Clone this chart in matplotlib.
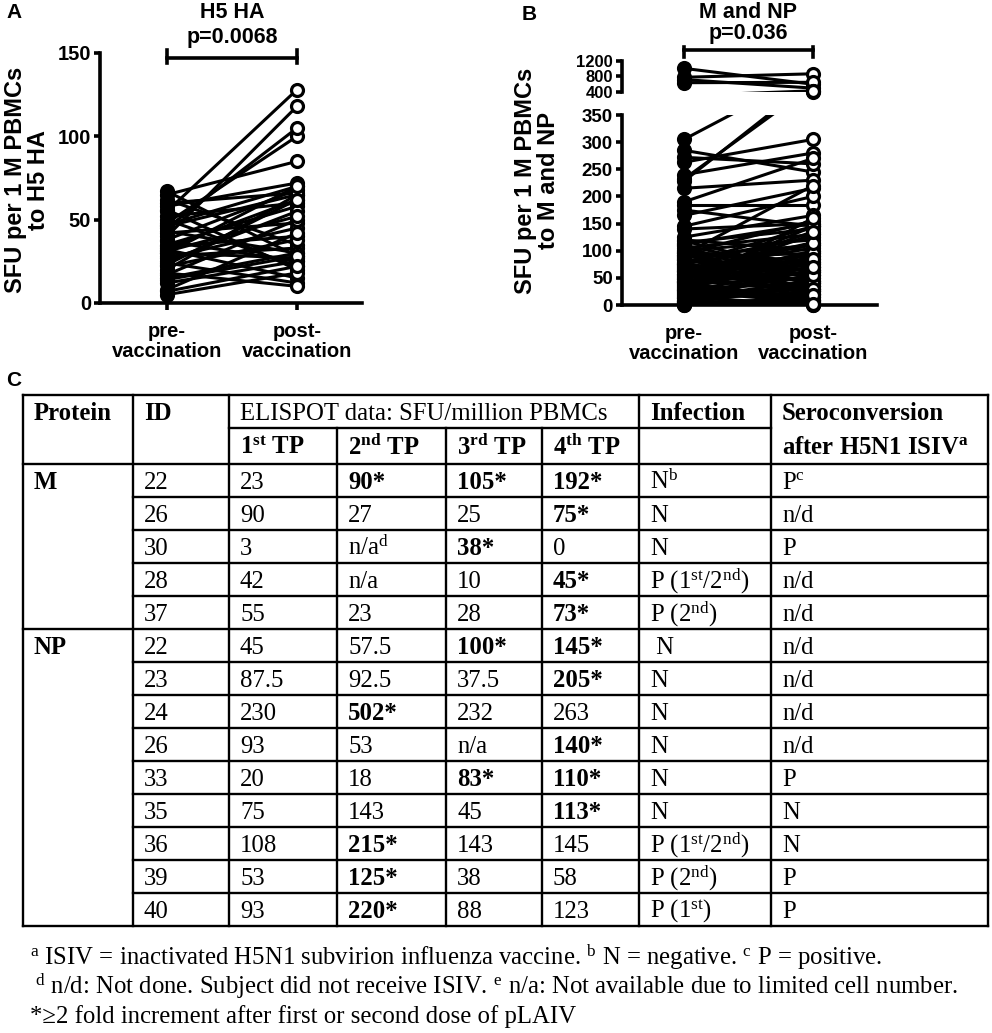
import numpy as np
import matplotlib
matplotlib.use('Agg')
import matplotlib.pyplot as plt

W, H = 992, 1033
plt.rcParams['mathtext.fontset'] = 'custom'
plt.rcParams['mathtext.rm'] = 'Liberation Serif'
plt.rcParams['mathtext.bf'] = 'Liberation Serif:bold'
plt.rcParams['mathtext.it'] = 'Liberation Serif:italic'
SANS = 'Liberation Sans'
SERIF = 'Liberation Serif'

# ---------------- data ----------------
groups = ['pre-\nvaccination', 'post-\nvaccination']

ha_title = 'H5 HA'
ha_p = 'p=0.0068'
ha_pre = [67, 65, 62, 58, 56, 55, 52, 50, 48, 46, 45, 43, 42, 40, 38, 37, 35, 34,
          33, 32, 30, 30, 28, 27, 25, 24, 22, 20, 18, 17, 15, 12, 8, 5,
          60, 47, 31, 23, 14, 7]
ha_post = [28, 85, 35, 72, 20, 128, 60, 22, 100, 65, 105, 30, 48, 118, 68, 25, 58, 40,
           62, 15, 70, 27, 33, 45, 55, 12, 38, 65, 10, 50, 30, 25, 42, 18,
           66, 70, 52, 62, 28, 22]
ha_yticks = [0, 50, 100, 150]

mnp_title = 'M and NP'
mnp_p = 'p=0.036'
mnp_pre = [1010, 780, 720, 640, 305, 232, 228, 285, 263, 272, 240, 215, 190, 185, 175,
           165, 145, 140, 125, 120, 115, 110, 105, 100, 98, 95, 92, 90, 88, 85, 82, 80,
           78, 75, 72, 70, 68, 65, 62, 60, 58, 55, 52, 50, 48, 45, 42, 40, 38, 35, 32,
           30, 28, 25, 22, 20, 18, 15, 12, 10, 8, 5, 3, 0, 0, 45, 93,
           118, 108, 96, 86, 76, 66, 57, 47, 37, 27, 17, 7, 2, 112, 102, 83, 63, 43, 33,
           13, 1, 54, 73, 24, 6]
mnp_post = [600, 870, 500, 650, 430, 405, 415, 245, 305, 260, 280, 230, 270, 185, 145,
            215, 200, 150, 165, 100, 140, 60, 130, 120, 80, 155, 50, 110, 95, 40, 70, 125,
            30, 145, 65, 90, 20, 105, 55, 75, 35, 85, 45, 115, 25, 60, 100, 10, 50, 70, 15,
            40, 90, 5, 30, 55, 20, 0, 45, 25, 65, 10, 35, 0, 15, 145, 220,
            60, 35, 75, 20, 110, 45, 95, 130, 80, 10, 65, 40, 5, 150, 25, 55, 115, 85, 160,
            30, 8, 135, 18, 70, 2]
mnp_low_ticks = [0, 50, 100, 150, 200, 250, 300, 350]
mnp_high_ticks = [400, 800, 1200]

tbl_protein = ['M', 'NP']
tbl_group_size = [5, 9]
tbl_ids = ['22', '26', '30', '28', '37', '22', '23', '24', '26', '33', '35', '36', '39', '40']
tbl_tp1 = ['23', '90', '3', '42', '55', '45', '87.5', '230', '93', '20', '75', '108', '53', '93']
tbl_tp2 = ['90*', '27', r'n/a$^{\mathrm{d}}$', 'n/a', '23', '57.5', '92.5', '502*', '53', '18',
           '143', '215*', '125*', '220*']
tbl_tp3 = ['105*', '25', '38*', '10', '28', '100*', '37.5', '232', 'n/a', '83*', '45', '143',
           '38', '88']
tbl_tp4 = ['192*', '75*', '0', '45*', '73*', '145*', '205*', '263', '140*', '110*', '113*',
           '145', '58', '123']
tbl_inf = [r'N$^{\mathrm{b}}$', 'N', 'N', r'P (1$^{\mathrm{st}}$/2$^{\mathrm{nd}}$)',
           r'P (2$^{\mathrm{nd}}$)', ' N', 'N', 'N', 'N', 'N', 'N',
           r'P (1$^{\mathrm{st}}$/2$^{\mathrm{nd}}$)', r'P (2$^{\mathrm{nd}}$)',
           r'P (1$^{\mathrm{st}}$)']
tbl_sero = [r'P$^{\mathrm{c}}$', 'n/d', 'P', 'n/d', 'n/d', 'n/d', 'n/d', 'n/d', 'n/d', 'P',
            'N', 'N', 'P', 'P']
hdr_protein = 'Protein'
hdr_id = 'ID'
hdr_elispot = 'ELISPOT data: SFU/million PBMCs'
hdr_tps = [r'1$^{\mathbf{st}}$ TP', r'2$^{\mathbf{nd}}$ TP', r'3$^{\mathbf{rd}}$ TP',
           r'4$^{\mathbf{th}}$ TP']
hdr_inf = 'Infection'
hdr_sero = ['Seroconversion', r'after H5N1 ISIV$^{\mathbf{a}}$']
footnotes = [
    r'$^{\mathrm{a}}$ ISIV = inactivated H5N1 subvirion influenza vaccine. $^{\mathrm{b}}$ N = negative. $^{\mathrm{c}}$ P = positive.',
    r'$^{\mathrm{d}}$ n/d: Not done. Subject did not receive ISIV. $^{\mathrm{e}}$ n/a: Not available due to limited cell number.',
    '*\u22652 fold increment after first or second dose of pLAIV',
]

# ---------------- helpers ----------------
fig = plt.figure(figsize=(W / 100, H / 100), dpi=100)


def rect(x0, y0, x1, y1):
    return [x0 / W, 1 - y1 / H, (x1 - x0) / W, (y1 - y0) / H]


def ftext(x, y, s, **kw):
    fig.text(x / W, 1 - y / H, s, **kw)


SPW = 2.6


def style_axis(ax, fs, xaxis=True):
    for s in ['top', 'right']:
        ax.spines[s].set_visible(False)
    ax.spines['left'].set_linewidth(SPW)
    ax.spines['bottom'].set_linewidth(SPW)
    ax.tick_params(axis='y', direction='out', length=4.5, width=SPW, pad=2,
                   labelsize=fs)
    if xaxis:
        ax.tick_params(axis='x', direction='out', length=5, width=SPW, pad=9,
                       labelsize=14.5)
    for lab in ax.get_yticklabels() + ax.get_xticklabels():
        lab.set_fontfamily(SANS)
        lab.set_fontweight('bold')


MS, MEW, LLW = 8.6, 2.3, 2.2


def paired(ax, pre, post, lo, hi, clip):
    pre = np.asarray(pre, float)
    post = np.asarray(post, float)
    xs = np.vstack([np.zeros_like(pre), np.ones_like(post)])
    ys = np.vstack([pre, post])
    ax.plot(xs, ys, color='black', lw=LLW, clip_on=clip, zorder=2)
    m0 = (pre >= lo) & (pre <= hi)
    m1 = (post >= lo) & (post <= hi)
    ax.plot(np.zeros(m0.sum()), pre[m0], 'o', ms=MS, mfc='black', mec='black', mew=MEW,
            clip_on=False, zorder=3)
    ax.plot(np.ones(m1.sum()), post[m1], 'o', ms=MS, mfc='white', mec='black', mew=MEW,
            clip_on=False, zorder=4)


def bracket(ax, yh, ylo, yhi):
    tr = ax.get_xaxis_transform()
    ax.plot([0, 1], [yh, yh], color='black', lw=2.6, transform=tr, clip_on=False)
    for xx in (0, 1):
        ax.plot([xx, xx], [ylo, yhi], color='black', lw=2.6, transform=tr, clip_on=False)


# ---------------- panel A ----------------
axA = fig.add_axes(rect(100, 53, 362, 303))
axA.set_xlim(-0.515, 1.5)
axA.set_ylim(0, 150)
paired(axA, ha_pre, ha_post, 0, 150, False)
axA.set_yticks(ha_yticks)
axA.set_xticks([0, 1])
axA.set_xticklabels(groups, linespacing=1.05)
style_axis(axA, 14.5)
bracket(axA, 0.98, 0.96, 1.012)
ftext(232, 13, ha_title, ha='center', va='center', fontsize=15.5, fontweight='bold', family=SANS)
ftext(232, 37, ha_p, ha='center', va='center', fontsize=15.5, fontweight='bold', family=SANS)
ftext(27, 180, 'SFU per 1 M PBMCs\nto H5 HA', rotation=90, ha='center', va='center',
      fontsize=17, fontweight='bold', family=SANS, linespacing=1.05)
ftext(14, 13, 'A', ha='center', va='center', fontsize=15, fontweight='bold', family=SANS)

# ---------------- panel B ----------------
axB = fig.add_axes(rect(622, 115, 877, 305))
axB.set_xlim(-0.48, 1.496)
axB.set_ylim(0, 350)
paired(axB, mnp_pre, mnp_post, 0, 350, True)
axB.set_yticks(mnp_low_ticks)
axB.set_xticks([0, 1])
axB.set_xticklabels(groups, linespacing=1.05)
style_axis(axB, 13.5)

axB2 = fig.add_axes(rect(622, 61, 877, 92))
axB2.set_xlim(-0.48, 1.496)
axB2.set_ylim(400, 1200)
paired(axB2, mnp_pre, mnp_post, 400, 1200, True)
axB2.set_yticks(mnp_high_ticks)
axB2.set_xticks([])
style_axis(axB2, 12, xaxis=False)
axB2.spines['bottom'].set_visible(False)
axB2.patch.set_alpha(0)
bracket(axB2, 1.355, 1.13, 1.45)
ftext(748, 12, mnp_title, ha='center', va='center', fontsize=15.5, fontweight='bold', family=SANS)
ftext(748, 34, mnp_p, ha='center', va='center', fontsize=15.5, fontweight='bold', family=SANS)
ftext(537, 181, 'SFU per 1 M PBMCs\nto M and NP', rotation=90, ha='center', va='center',
      fontsize=17, fontweight='bold', family=SANS, linespacing=1.05)
ftext(529, 14, 'B', ha='center', va='center', fontsize=15, fontweight='bold', family=SANS)

# ---------------- panel C: table ----------------
ftext(14, 381, 'C', ha='center', va='center', fontsize=15, fontweight='bold', family=SANS)
axT = fig.add_axes([0, 0, 1, 1])
axT.set_xlim(0, W)
axT.set_ylim(H, 0)
axT.axis('off')
axT.patch.set_alpha(0)

cols = [23, 133, 229, 337, 446, 542, 639, 771, 988]
h0, h1, h2 = 395, 428, 464
rowh = 33
nrows = len(tbl_ids)
row_edges = [h2 + rowh * i for i in range(nrows + 1)]
LW = 1.7
TFS = 17.8
lk = dict(color='black', lw=LW, solid_capstyle='projecting')

axT.plot([cols[0], cols[-1]], [h0, h0], **lk)
axT.plot([cols[2], cols[7]], [h1, h1], **lk)
axT.plot([cols[0], cols[-1]], [h2, h2], **lk)
gstart = np.cumsum([0] + tbl_group_size)
for i in range(1, nrows + 1):
    y = row_edges[i]
    if i in gstart:
        axT.plot([cols[0], cols[-1]], [y, y], **lk)
    else:
        axT.plot([cols[1], cols[-1]], [y, y], **lk)
for j, x in enumerate(cols):
    if j in (3, 4, 5):
        axT.plot([x, x], [h1, row_edges[-1]], **lk)
    else:
        axT.plot([x, x], [h0, row_edges[-1]], **lk)

pad = 11


def cell(col, ytop, ybot, s, bold=False):
    yc = (ytop + ybot) / 2
    axT.text(cols[col] + pad, yc + 8.5, s, ha='left', va='baseline', fontsize=TFS,
             family=SERIF, fontweight='bold' if bold else 'normal')


cell(0, h0, h1, hdr_protein, True)
cell(1, h0, h1, hdr_id, True)
cell(2, h0, h1, hdr_elispot, False)
cell(6, h0, h1, hdr_inf, True)
for k, s in enumerate(hdr_tps):
    cell(2 + k, h1, h2, s, True)
cell(7, h0, h1, hdr_sero[0], True)
cell(7, h1, h2, hdr_sero[1], True)

for g, name in enumerate(tbl_protein):
    r = gstart[g]
    cell(0, row_edges[r], row_edges[r + 1], name, True)

for i in range(nrows):
    yt, yb = row_edges[i], row_edges[i + 1]
    cell(1, yt, yb, tbl_ids[i])
    for c, arr in zip((2, 3, 4, 5), (tbl_tp1, tbl_tp2, tbl_tp3, tbl_tp4)):
        s = arr[i]
        cell(c, yt, yb, s, s.endswith('*'))
    cell(6, yt, yb, tbl_inf[i])
    cell(7, yt, yb, tbl_sero[i])

fx = [30, 35, 30]
fy = [965, 994, 1023]
for s, x, y in zip(footnotes, fx, fy):
    axT.text(x, y, s, ha='left', va='baseline', fontsize=TFS, family=SERIF)

fig.savefig('out.png', dpi=100)
